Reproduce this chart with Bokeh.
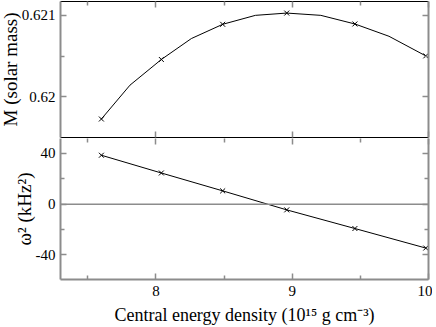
from bokeh.plotting import figure
from bokeh.models import Range1d, FixedTicker, LinearAxis, Span, CustomJSTickFormatter
from bokeh.layouts import column
from bokeh.embed import file_html
from bokeh.resources import INLINE

# ---- data ----
mass_line_x = [7.60, 7.81, 8.04, 8.26, 8.49, 8.73, 8.96, 9.21, 9.46, 9.71, 9.98]
mass_line_y = [0.619727, 0.620143, 0.620458, 0.620715, 0.620890, 0.621000,
               0.621028, 0.621000, 0.620894, 0.620743, 0.620502]
density = [7.60, 8.04, 8.49, 8.96, 9.46, 9.98]
mass = [0.619727, 0.620458, 0.620890, 0.621028, 0.620894, 0.620502]
omega2 = [38.6, 24.6, 10.5, -4.5, -19.2, -34.6]

x_ticks = [8, 9, 10]
x_minor = [7.5, 8.5, 9.5]
m_ticks = [0.620, 0.621]
m_minor = [0.6205]
w_ticks = [-40, 0, 40]
w_minor = [-20, 20]

FONT = "Liberation Serif"
GRAY = "#8c8c8c"


def make_axis(ticks, minor, line_color, line_width, labels, minor_in=4, code=None):
    ax = LinearAxis(ticker=FixedTicker(ticks=ticks, minor_ticks=minor))
    ax.axis_line_color = line_color
    ax.axis_line_width = line_width
    ax.major_tick_line_color = GRAY
    ax.minor_tick_line_color = GRAY
    ax.major_tick_line_width = 1.5
    ax.minor_tick_line_width = 1.5
    ax.major_tick_in = 6
    ax.major_tick_out = 0
    ax.minor_tick_in = minor_in
    ax.minor_tick_out = 0
    ax.major_label_text_font = FONT
    ax.major_label_text_color = "black"
    ax.major_label_text_font_size = "15px"
    ax.axis_label_text_font = FONT
    ax.axis_label_text_font_style = "normal"
    ax.axis_label_text_color = "black"
    if labels:
        ax.major_label_standoff = 5
        ax.formatter = CustomJSTickFormatter(code=code or "return String(tick);")
    else:
        ax.major_label_standoff = 0
        ax.formatter = CustomJSTickFormatter(code="return '';")
    return ax


# ---- top panel: mass ----
p1 = figure(frame_width=368, frame_height=136, output_backend="svg",
            toolbar_location=None, x_axis_location=None, y_axis_location=None,
            x_range=Range1d(7.3, 10.0), y_range=Range1d(0.6195, 0.62117),
            min_border_left=59, min_border_right=9, min_border_top=1,
            min_border_bottom=1)
p1.outline_line_color = None
p1.xgrid.visible = False
p1.ygrid.visible = False

ly1 = make_axis(m_ticks, m_minor, GRAY, 2, True,
                code="return String(Math.round(tick*1000)/1000);")
ly1.axis_label = "M (solar mass)"
ly1.axis_label_text_font_size = "19px"
ly1.axis_label_standoff = -2
p1.add_layout(ly1, "left")
p1.add_layout(make_axis(m_ticks, m_minor, GRAY, 2, False), "right")
p1.add_layout(make_axis(x_ticks, x_minor, "black", 1, False), "above")
p1.add_layout(make_axis(x_ticks, x_minor, "black", 1.2, False, minor_in=0), "below")

p1.line(mass_line_x, mass_line_y, line_color="black", line_width=1)
p1.scatter(density, mass, marker="x", size=7, line_color="black", line_width=1)

# ---- bottom panel: omega^2 ----
p2 = figure(frame_width=368, frame_height=141, output_backend="svg",
            toolbar_location=None, x_axis_location=None, y_axis_location=None,
            x_range=p1.x_range, y_range=Range1d(-59.4, 51.8),
            min_border_left=59, min_border_right=9, min_border_top=0,
            min_border_bottom=48)
p2.outline_line_color = None
p2.xgrid.visible = False
p2.ygrid.visible = False

ly2 = make_axis(w_ticks, w_minor, GRAY, 2, True)
ly2.axis_label = "ω² (kHz²)"
ly2.axis_label_text_font_size = "19px"
ly2.axis_label_standoff = -2
p2.add_layout(ly2, "left")
p2.add_layout(make_axis(w_ticks, w_minor, GRAY, 2, False), "right")
p2.add_layout(make_axis(x_ticks, x_minor, None, 1, False), "above")
bx = make_axis(x_ticks, x_minor, GRAY, 2, True)
bx.axis_label = "Central energy density (10¹⁵ g cm⁻³)"
bx.axis_label_text_font_size = "18px"
bx.axis_label_standoff = 6
bx.major_label_standoff = 6
p2.add_layout(bx, "below")

p2.add_layout(Span(location=0, dimension="width", line_color=GRAY, line_width=1.5))
p2.line(density, omega2, line_color="black", line_width=1)
p2.scatter(density, omega2, marker="x", size=7, line_color="black", line_width=1)

layout = column(p1, p2, spacing=0, styles={"margin-left": "-4px"})
open("out.html", "w").write(file_html(layout, INLINE))
